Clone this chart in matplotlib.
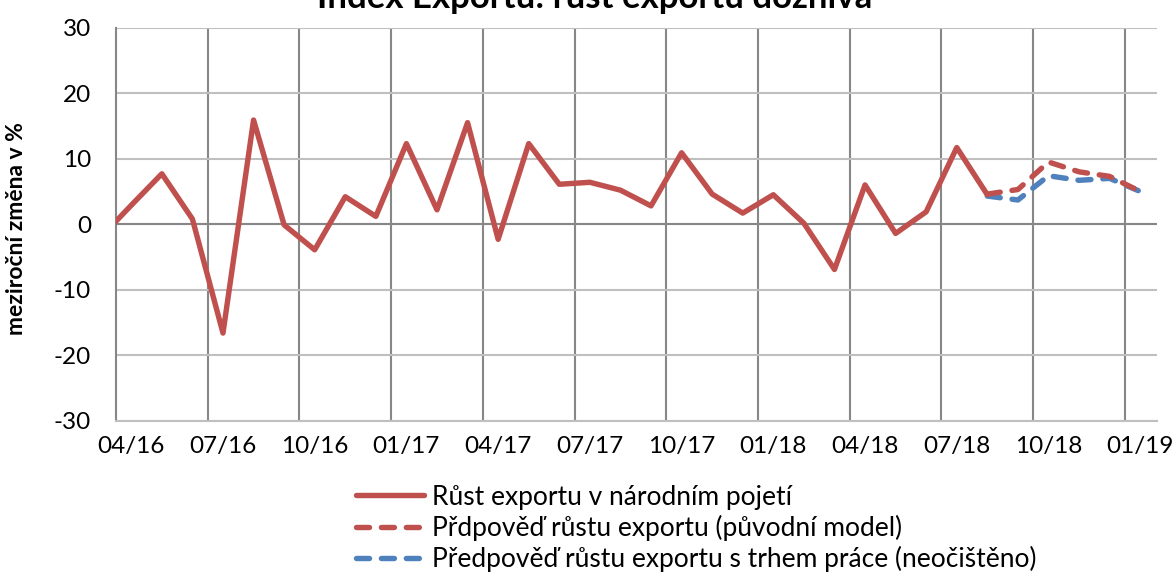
import matplotlib.pyplot as plt
import pandas as pd

plt.rcParams['font.family'] = ['Lato', 'DejaVu Sans']
plt.rcParams['axes.unicode_minus'] = False

# months from 03/16 to 01/19 (03/16 sits just left of the visible axis)
months = list(pd.date_range('2016-03-01', '2019-01-01', freq='MS').strftime('%m/%y'))

# Růst exportu v národním pojetí, 03/16 .. 08/18
export_growth = [-2.0, 2.9, 7.7, 0.8, -16.6, 15.9, -0.1, -3.9, 4.2, 1.2,
                 12.3, 2.2, 15.5, -2.3, 12.3, 6.1, 6.4, 5.2, 2.8, 10.9,
                 4.6, 1.7, 4.5, 0.15, -6.9, 6.0, -1.4, 1.9, 11.7, 4.5]
# forecasts, 08/18 .. 01/19
forecast_original = [4.6, 5.3, 9.5, 8.0, 7.3, 5.0]
forecast_labour = [4.3, 3.7, 7.4, 6.7, 7.0, 5.0]

labels = ['Růst exportu v národním pojetí',
          'Přdpověď růstu exportu (původní model)',
          'Předpověď růstu exportu s trhem práce (neočištěno)']

red = '#C0504D'
blue = '#4F81BD'
dark_grid = '#878787'
light_grid = '#BFBFBF'

x_main = list(range(len(export_growth)))
start = months.index('08/18')
x_fc = list(range(start, start + len(forecast_original)))

fig = plt.figure(figsize=(11.75, 5.75), dpi=100)
ax = fig.add_axes([0.0987, 0.268, 0.886, 0.684])

l1, = ax.plot(x_main, export_growth, color=red, lw=3.9,
              solid_capstyle='round', solid_joinstyle='round', zorder=4)
l2, = ax.plot(x_fc, forecast_original, color=red, lw=3.9, dashes=(2.4, 2.2),
              dash_capstyle='round', dash_joinstyle='round', zorder=5)
l3, = ax.plot(x_fc, forecast_labour, color=blue, lw=3.9, dashes=(2.4, 2.2),
              dash_capstyle='round', dash_joinstyle='round', zorder=3)

ax.set_ylim(-30, 30)
ax.set_yticks(range(-30, 31, 10))
ax.set_xlim(0.5, 34.55)
major = list(range(1, len(months), 3))
ax.set_xticks(major)
ax.set_xticklabels([months[i] for i in major])
ax.set_xticks([i + 2.5 for i in major[:-1]], minor=True)

ax.grid(axis='y', which='major', color=light_grid, lw=1.5, zorder=1)
ax.grid(axis='x', which='minor', color=dark_grid, lw=1.5, zorder=1)
ax.axhline(0, color=dark_grid, lw=1.5, zorder=2)
ax.set_axisbelow(True)

for s in ['top', 'right']:
    ax.spines[s].set_visible(False)
ax.spines['left'].set_color(dark_grid)
ax.spines['left'].set_linewidth(1.5)
ax.spines['bottom'].set_color(light_grid)
ax.spines['bottom'].set_linewidth(1.5)

ax.tick_params(which='both', length=0, labelsize=17.5, colors='black')
ax.tick_params(axis='y', pad=18)
ax.tick_params(axis='x', pad=11)

ax.set_ylabel('meziroční změna v %', fontsize=16.5, fontweight='bold')
ax.yaxis.set_label_coords(-0.085, 0.49)

fig.text(0.506, 1 - 8 / 575, 'Index Exportu: růst exportu doznívá',
         ha='center', va='baseline', fontsize=25, fontweight='bold')

fig.legend([l1, l2, l3], labels, loc='upper left', bbox_to_anchor=(0.303, 0.157),
           frameon=False, fontsize=19, handlelength=2.58, handletextpad=0.3,
           labelspacing=0.2, borderpad=0, borderaxespad=0)

fig.savefig('out.png', dpi=100)
